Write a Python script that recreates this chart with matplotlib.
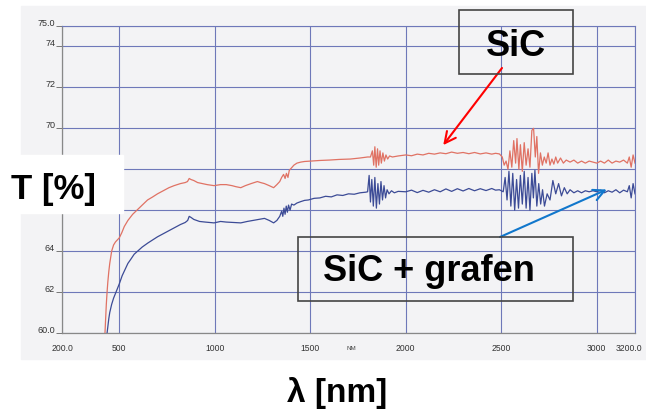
import matplotlib
matplotlib.use("Agg")
import matplotlib.pyplot as plt
from matplotlib.patches import Rectangle
from matplotlib.transforms import ScaledTranslation

plt.rcParams['font.family'] = ['Liberation Sans', 'DejaVu Sans']

# SiC transmission
sic_wl = [425, 428, 432, 436, 440, 445, 450, 455, 460, 470, 480, 490, 500, 513, 526, 545, 570, 592, 620, 648,
          675, 700, 730, 760, 787, 820, 845, 857, 866, 875, 890, 910, 935, 960, 996, 1030, 1060, 1090, 1110, 1136,
          1160, 1190, 1223, 1240, 1260, 1285, 1308, 1325, 1340, 1350, 1360, 1368, 1375, 1383, 1390, 1400, 1414, 1430,
          1450, 1470, 1502, 1550, 1600, 1650, 1710, 1760, 1800, 1815, 1825, 1832, 1838, 1845, 1852, 1858, 1865, 1872,
          1880, 1888, 1896, 1905, 1915, 1930, 1960, 2000, 2030, 2060, 2090, 2120, 2150, 2180, 2210, 2240, 2270, 2300,
          2330, 2360, 2390, 2420, 2450, 2470, 2490, 2505, 2515, 2525, 2535, 2545, 2555, 2565, 2575, 2582, 2592, 2600,
          2610, 2620, 2630, 2640, 2650, 2660, 2669, 2678, 2686, 2695, 2705, 2715, 2725, 2735, 2745, 2755, 2765, 2775,
          2785, 2795, 2810, 2825, 2840, 2860, 2880, 2900, 2920, 2940, 2960, 2980, 3000, 3020, 3040, 3060, 3080, 3100,
          3120, 3140, 3160, 3170, 3180, 3190, 3200]
sic_t = [60.0, 60.6, 61.4, 62.0, 62.5, 63.0, 63.4, 63.7, 64.0, 64.3, 64.45, 64.55, 64.65, 64.9, 65.2, 65.5, 65.8, 66.0, 66.25, 66.5,
         66.65, 66.8, 66.95, 67.1, 67.2, 67.3, 67.35, 67.4, 67.55, 67.5, 67.45, 67.35, 67.3, 67.25, 67.2, 67.25, 67.25, 67.2, 67.15, 67.1,
         67.2, 67.3, 67.4, 67.35, 67.3, 67.2, 67.1, 67.25, 67.4, 67.6, 67.75, 67.55, 67.8, 67.6, 67.95, 68.05, 68.2, 68.3,
         68.35, 68.38, 68.4, 68.43, 68.45, 68.48, 68.5, 68.55, 68.6, 68.6, 68.9, 68.2, 69.1, 68.1, 69.0, 68.2, 68.9, 68.3,
         68.8, 68.4, 68.7, 68.5, 68.65, 68.6, 68.65, 68.7, 68.66, 68.74, 68.7, 68.78, 68.74, 68.8, 68.76, 68.84, 68.78, 68.82,
         68.76, 68.82, 68.75, 68.8, 68.74, 68.78, 68.75, 68.6, 68.2, 68.4, 68.0, 68.9, 68.1, 69.4, 68.3, 69.5, 68.0, 69.2,
         67.9, 69.3, 68.2, 69.0, 68.1, 69.9, 70.0, 68.6, 69.6, 67.8, 68.8, 68.2, 68.6, 68.3, 68.8, 68.2, 68.5, 68.25,
         68.6, 68.3, 68.55, 68.3, 68.45, 68.35, 68.45, 68.3, 68.4, 68.3, 68.4, 68.35, 68.3, 68.4, 68.3, 68.45, 68.3, 68.4,
         68.35, 68.45, 68.3, 68.6, 68.1, 68.7, 68.3]

# SiC + grafen
gr_wl = [436, 440, 445, 450, 460, 470, 483, 500, 515, 530, 545, 560, 578, 596, 620, 650, 675, 700, 730, 760,
         790, 820, 845, 858, 866, 875, 890, 920, 950, 996, 1030, 1060, 1100, 1136, 1170, 1200, 1230, 1260, 1285, 1308,
         1325, 1340, 1350, 1356, 1362, 1368, 1374, 1380, 1386, 1394, 1402, 1414, 1430, 1450, 1470, 1490, 1520, 1550,
         1580, 1610, 1640, 1670, 1700, 1730, 1760, 1790, 1800, 1808, 1815, 1822, 1830, 1838, 1846, 1854, 1862, 1870,
         1878, 1886, 1894, 1902, 1912, 1925, 1940, 1960, 2000, 2030, 2060, 2090, 2120, 2150, 2180, 2210, 2240, 2270,
         2300, 2330, 2360, 2390, 2420, 2450, 2470, 2490, 2510, 2520, 2530, 2540, 2550, 2560, 2570, 2580, 2590, 2600,
         2610, 2620, 2630, 2640, 2650, 2660, 2668, 2676, 2686, 2696, 2706, 2716, 2726, 2740, 2755, 2770, 2785, 2800,
         2815, 2830, 2845, 2860, 2880, 2900, 2920, 2940, 2960, 2980, 3000, 3020, 3040, 3060, 3080, 3100, 3120, 3140,
         3160, 3170, 3180, 3190, 3200]
gr_t = [60.0, 60.3, 60.7, 61.0, 61.4, 61.7, 62.0, 62.4, 62.8, 63.1, 63.4, 63.6, 63.85, 64.0, 64.2, 64.4, 64.55, 64.7, 64.85, 65.0,
        65.15, 65.3, 65.4, 65.5, 65.7, 65.65, 65.55, 65.45, 65.42, 65.38, 65.45, 65.42, 65.4, 65.38, 65.45, 65.5, 65.55, 65.6, 65.5, 65.38,
        65.5, 65.7, 65.95, 65.7, 66.1, 65.8, 66.2, 65.9, 66.25, 66.0, 66.3, 66.25, 66.35, 66.42, 66.48, 66.5, 66.58, 66.6,
        66.68, 66.65, 66.75, 66.72, 66.8, 66.78, 66.85, 66.88, 66.9, 67.7, 66.4, 67.5, 66.2, 67.6, 66.1, 67.3, 66.3, 67.4,
        66.5, 67.2, 66.6, 67.0, 66.8, 66.95, 66.85, 66.92, 66.9, 66.98, 66.86, 66.97, 66.88, 67.0, 66.9, 67.04, 66.92, 67.05,
        66.94, 67.06, 66.95, 67.05, 66.96, 67.06, 66.98, 67.0, 66.9, 67.6, 66.5, 67.9, 66.2, 67.8, 66.0, 67.5, 66.1, 67.7,
        66.3, 67.9, 66.1, 67.6, 66.0, 67.8, 66.6, 67.95, 66.2, 67.3, 66.3, 67.0, 66.2, 66.8, 66.5, 67.45, 66.8, 67.3,
        66.7, 67.1, 66.8, 67.0, 66.85, 66.95, 66.85, 66.95, 66.9, 66.95, 66.9, 66.98, 66.85, 66.95, 66.88, 67.0, 66.85, 66.98,
        66.9, 67.2, 66.6, 67.3, 66.8]

x_ticks = [200, 500, 1000, 1500, 2000, 2500, 3000, 3200]
x_labels = ['200.0', '500', '1000', '1500', '2000', '2500', '3000', '3200.0']
y_ticks = [60, 62, 64, 66, 68, 70, 72, 74, 75]
# 66 and 68 sit under the white "T [%]" patch in the original
y_labels = ['60.0', '62', '64', '', '', '70', '72', '74', '75.0']

W, H = 646, 409


def fx(px):
    return px / W


def fy(py):
    return 1 - py / H


fig = plt.figure(figsize=(W / 100, H / 100), dpi=100)

# scanned paper background
fig.patches.append(Rectangle((fx(21), fy(359)), fx(646 - 21), (359 - 6) / H,
                             transform=fig.transFigure, color='#f3f3f5', zorder=-5))

ax = fig.add_axes([fx(62), fy(333), (635 - 62) / W, (333 - 26) / H])
ax.set_facecolor('none')

grid_c = '#6e78b9'
ax.plot(sic_wl, sic_t, color='#e07264', lw=0.9, zorder=3)
ax.plot(gr_wl, gr_t, color='#3c4b96', lw=0.9, zorder=3)

ax.set_xlim(200, 3200)
ax.set_ylim(60, 75)
ax.set_xticks(x_ticks)
ax.set_xticklabels(x_labels)
ax.set_yticks(y_ticks)
ax.set_yticklabels(y_labels)
ax.grid(True, color=grid_c, lw=0.8)
ax.tick_params(axis='y', length=4, width=0.7, color='#777777', pad=1, labelsize=6.5, labelcolor='#333333')
ax.tick_params(axis='x', length=0, pad=8, labelsize=6.2, labelcolor='#333333')
for lbl in ax.get_yticklabels():
    lbl.set_verticalalignment('baseline')
# last x label pulled in a little so it stays on the page
last = ax.get_xticklabels()[-1]
last.set_transform(last.get_transform() + ScaledTranslation(-4 / 72, 0, fig.dpi_scale_trans))

for s in ['left', 'bottom']:
    ax.spines[s].set_color('#888888')
    ax.spines[s].set_linewidth(0.9)
for s in ['top', 'right']:
    ax.spines[s].set_color(grid_c)
    ax.spines[s].set_linewidth(0.8)

fig.text(fx(351), fy(349), 'NM', fontsize=4.5, color='#444444', ha='center', va='center')

# white patch with the y label
fig.patches.append(Rectangle((0, fy(213)), fx(123), (213 - 155) / H,
                             transform=fig.transFigure, color='white', zorder=5))
fig.text(fx(11), fy(199), 'T [%]', fontsize=25, fontweight='bold', ha='left', va='baseline', zorder=6)

# x label
fig.text(fx(337), fy(402), 'λ [nm]', fontsize=24, fontweight='bold', ha='center', va='baseline')

# legend boxes
fig.patches.append(Rectangle((fx(459), fy(74)), (573 - 459) / W, (74 - 10) / H,
                             transform=fig.transFigure, fill=False, ec='#444444', lw=1.2, zorder=5))
fig.text(fx(516), fy(56), 'SiC', fontsize=26, fontweight='bold', ha='center', va='baseline', zorder=6)

fig.patches.append(Rectangle((fx(298), fy(301)), (573 - 298) / W, (301 - 237) / H,
                             transform=fig.transFigure, fill=False, ec='#444444', lw=1.2, zorder=5))
fig.text(fx(323), fy(281), 'SiC + grafen', fontsize=26, fontweight='bold', ha='left', va='baseline', zorder=6)

# arrows
ax.annotate('', xy=(2196, 69.18), xycoords='data', xytext=(fx(502), fy(68)), textcoords='figure fraction',
            arrowprops=dict(arrowstyle='->,head_length=0.8,head_width=0.4', color='red', lw=1.5,
                            shrinkA=0, shrinkB=0), zorder=7, annotation_clip=False)
ax.annotate('', xy=(3052, 67.01), xycoords='data', xytext=(fx(500), fy(237)), textcoords='figure fraction',
            arrowprops=dict(arrowstyle='->,head_length=0.8,head_width=0.4', color='#1177cc', lw=1.5,
                            shrinkA=0, shrinkB=0), zorder=7, annotation_clip=False)

fig.savefig('out.png', dpi=100)
